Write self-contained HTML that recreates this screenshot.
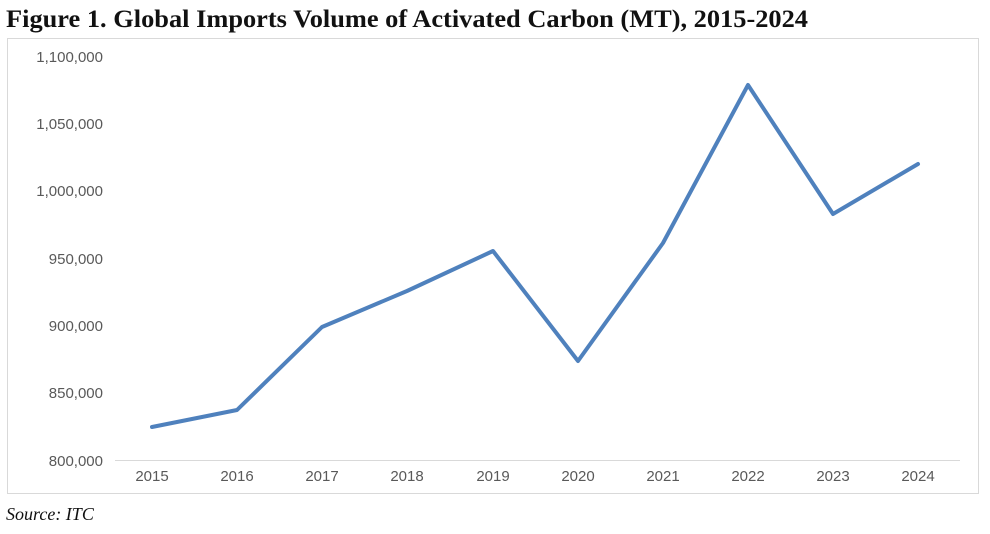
<!DOCTYPE html>
<html><head><meta charset="utf-8"><style>
html,body{margin:0;padding:0;background:#fff;width:990px;height:534px;overflow:hidden}
</style></head><body>
<svg width="990" height="534" xmlns="http://www.w3.org/2000/svg">
<text x="6" y="27" font-family="Liberation Serif, serif" font-weight="bold" font-size="25" fill="#111" textLength="802" lengthAdjust="spacingAndGlyphs">Figure 1. Global Imports Volume of Activated Carbon (MT), 2015-2024</text>
<rect x="7.5" y="38.5" width="971" height="455" fill="#fff" stroke="#d9d9d9" stroke-width="1"/>
<g font-family="Liberation Sans, sans-serif" font-size="15" fill="#595959" text-anchor="end">
<text x="103" y="62">1,100,000</text>
<text x="103" y="129">1,050,000</text>
<text x="103" y="196">1,000,000</text>
<text x="103" y="264">950,000</text>
<text x="103" y="331">900,000</text>
<text x="103" y="398">850,000</text>
<text x="103" y="466">800,000</text>
</g>
<line x1="115" y1="460.5" x2="960" y2="460.5" stroke="#d9d9d9" stroke-width="1"/>
<g font-family="Liberation Sans, sans-serif" font-size="15" fill="#595959" text-anchor="middle">
<text x="152" y="481">2015</text><text x="237" y="481">2016</text><text x="322" y="481">2017</text>
<text x="407" y="481">2018</text><text x="493" y="481">2019</text><text x="578" y="481">2020</text>
<text x="663" y="481">2021</text><text x="748" y="481">2022</text><text x="833" y="481">2023</text>
<text x="918" y="481">2024</text>
</g>
<polyline fill="none" stroke="#4f81bd" stroke-width="4" stroke-linejoin="round" stroke-linecap="round"
points="152,427 237,410 322,327 407,291 493,251 578,361 663,243 748,85 833,214 918,164"/>
<text x="6" y="520" font-family="Liberation Serif, serif" font-style="italic" font-size="18" fill="#111">Source: ITC</text>
</svg>
</body></html>
